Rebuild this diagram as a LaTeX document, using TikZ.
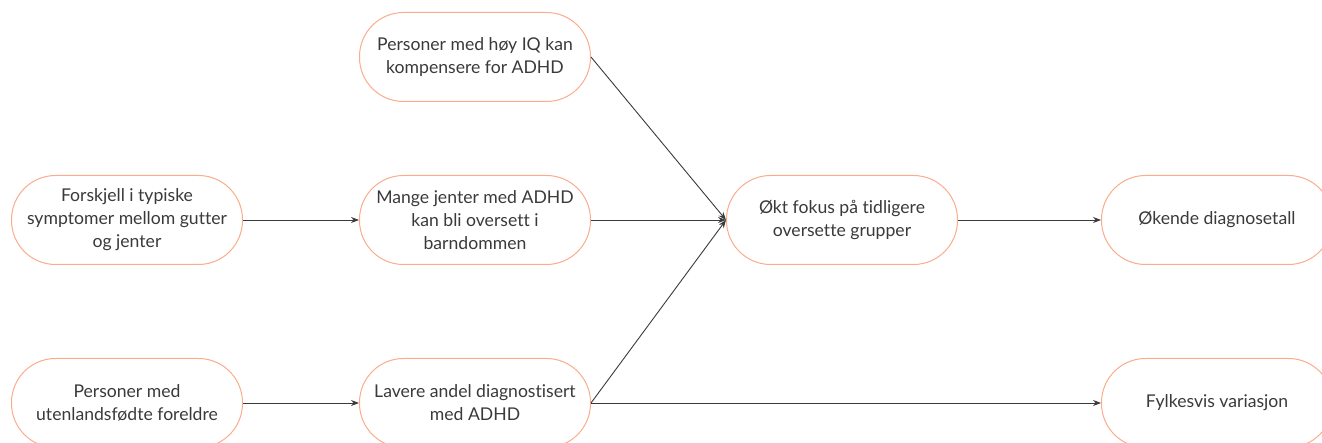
\documentclass[tikz,border=0pt]{standalone}
\usepackage{fontspec}
\setmainfont{Lato}[Ligatures=NoCommon]
\usepackage{tikz}
\usetikzlibrary{positioning}
\usetikzlibrary{arrows.meta}

\definecolor{boxline}{RGB}{250,172,142}
\definecolor{ink}{RGB}{58,58,58}

\tikzset{
    pill/.style={draw=boxline, line width=1pt, fill=white, rounded corners=44pt,
        minimum width=231pt, minimum height=89pt, inner sep=0pt, align=center,
        text=ink, font=\fontsize{17.6}{23}\selectfont},
    link/.style={draw=ink, line width=0.9pt, -{Stealth[length=8pt, width=6pt]}},
}

\begin{document}
\begin{tikzpicture}[x=1pt, y=-1pt]
    \useasboundingbox (0,0) rectangle (1322,443);

    \node [pill] (forskjell) at (127,220) {Forskjell i typiske\\symptomer mellom gutter\\og jenter};
    \node [pill, right=116pt of forskjell] (jenter) {Mange jenter med ADHD\\kan bli oversett i\\barndommen};
    \node [pill, above=73pt of jenter] (hoyiq) {Personer med høy IQ kan\\kompensere for ADHD};
    \node [pill, below=93pt of jenter] (lavere) {Lavere andel diagnostisert\\med ADHD};
    \node [pill, left=116pt of lavere] (utenlands) {Personer med\\utenlandsfødte foreldre};
    \node [pill, right=135pt of jenter] (fokus) {Økt fokus på tidligere\\oversette grupper};
    \node [pill, right=143pt of fokus] (okende) {Økende diagnosetall};
    \node [pill, below=93pt of okende] (fylke) {Fylkesvis variasjon};

    \draw [link] (forskjell) -- (jenter);
    \draw [link] (utenlands) -- (lavere);
    \draw [link] (hoyiq.east) -- (fokus.west);
    \draw [link] (jenter) -- (fokus);
    \draw [link] (lavere.east) -- (fokus.west);
    \draw [link] (lavere) -- (fylke);
    \draw [link] (fokus) -- (okende);

\end{tikzpicture}
\end{document}
